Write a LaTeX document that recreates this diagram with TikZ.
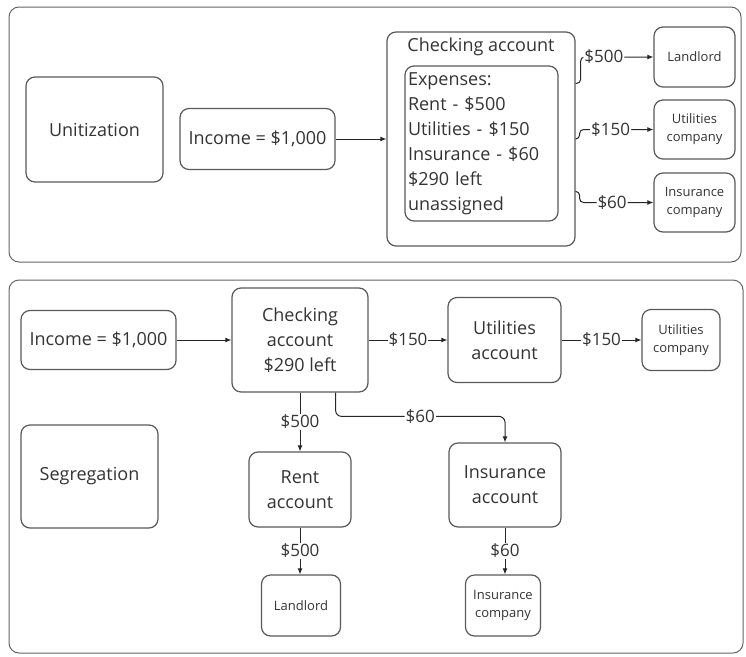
\documentclass[tikz,border=0pt]{standalone}
\usepackage{fontspec}
\setmainfont{Open Sans}
\usetikzlibrary{arrows.meta}
\begin{document}
\begin{tikzpicture}[x=1pt,y=-1pt,>={Latex[length=6pt,width=5pt]},
  frame/.style={draw=black!60,line width=1pt,rounded corners=10pt},
  box/.style={draw=black!65,line width=1.2pt,rounded corners=9pt,inner sep=0pt,align=center,text=black!80,font=\fontsize{18}{25}\selectfont},
  small/.style={box,font=\fontsize{13}{18}\selectfont},
  lbl/.style={fill=white,inner sep=1pt,text=black!80,font=\fontsize{17}{20}\selectfont},
  link/.style={->,draw=black!85,line width=1pt}]
\useasboundingbox (0,0) rectangle (746,656);
\draw[frame] (9,7) rectangle (741,262);
\draw[frame] (9,280) rectangle (743,653);
\node[box,minimum width=137pt,minimum height=105pt] (unit) at (94.5,129.5) {Unitization};
\node[box,minimum width=155pt,minimum height=61pt] (inc1) at (257.5,139) {Income = \$1,000};
\node[box,minimum width=188pt,minimum height=214pt] (chk1) at (481,139) {};
\node[text=black!80,font=\fontsize{18}{25}\selectfont] (chkt) at (481,47) {Checking account};
\node[box,minimum width=153pt,minimum height=155pt,text width=147pt,align=left] (exp) at (481.5,143.5)
  {Expenses:\\Rent - \$500\\Utilities - \$150\\Insurance - \$60\\\$290 left\\unassigned};
\node[small,minimum width=81pt,minimum height=60pt] (land1) at (694.5,57) {Landlord};
\node[small,minimum width=81pt,minimum height=59pt] (util1) at (694.5,129.5) {Utilities\\company};
\node[small,minimum width=81pt,minimum height=59pt] (ins1) at (694.5,202.5) {Insurance\\company};
\draw[link] (inc1) -- (chk1);
\draw[link,rounded corners=4pt] ([yshift=-52pt]chk1.north east) -- ++(5,0) |- node[lbl,pos=0.66]{\$500} (land1);
\draw[link,rounded corners=4pt] (chk1.east) -- ++(4,0) |- node[lbl,pos=0.71]{\$150} (util1);
\draw[link,rounded corners=4pt] ([yshift=-160pt]chk1.north east) -- ++(4,0) |- node[lbl,pos=0.72]{\$60} (ins1);
\node[box,minimum width=155pt,minimum height=59pt] (inc2) at (98.5,340) {Income = \$1,000};
\node[box,minimum width=137pt,minimum height=103pt] (seg) at (89.5,476.5) {Segregation};
\node[box,minimum width=136pt,minimum height=104pt] (chk2) at (300,340) {Checking\\account\\\$290 left};
\node[box,minimum width=113pt,minimum height=85pt] (utila) at (504.5,340) {Utilities\\account};
\node[small,minimum width=78pt,minimum height=61pt] (utilc) at (681,340) {Utilities\\company};
\node[box,minimum width=102pt,minimum height=75pt] (rent) at (300,489.5) {Rent\\account};
\node[small,minimum width=79pt,minimum height=61pt] (land2) at (301,605.5) {Landlord};
\node[box,minimum width=112pt,minimum height=84pt] (insa) at (505,485) {Insurance\\account};
\node[small,minimum width=75pt,minimum height=61pt] (insc) at (503,605.5) {Insurance\\company};
\draw[link] (inc2) -- (chk2);
\draw[link] (chk2) -- node[lbl]{\$150} (utila);
\draw[link] (utila) -- node[lbl]{\$150} (utilc);
\draw[link] (chk2) -- node[lbl]{\$500} (rent);
\draw[link] (rent) -- node[lbl]{\$500} (rent.south |- land2.north);
\draw[link,rounded corners=6pt] ([xshift=-33pt]chk2.south east) |- node[lbl,pos=0.75]{\$60} ([yshift=26pt]insa.north) -- (insa.north);
\draw[link] (insa) -- node[lbl]{\$60} (insa.south |- insc.north);
\end{tikzpicture}
\end{document}
